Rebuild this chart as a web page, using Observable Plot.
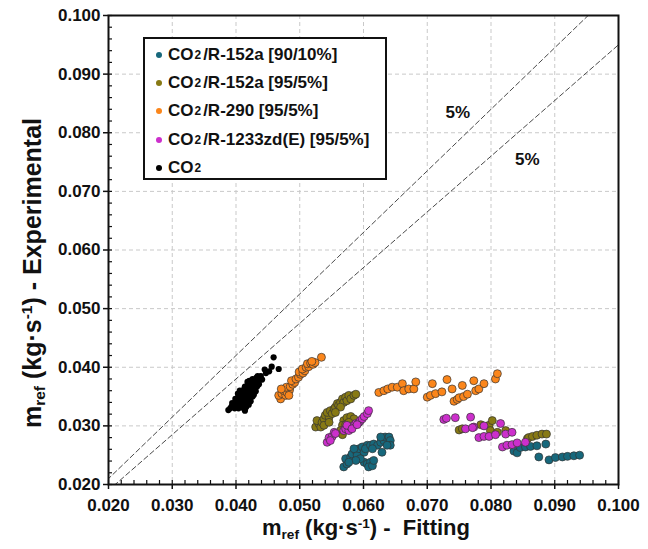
<!DOCTYPE html>
<html>
<head>
<meta charset="utf-8">
<script src="https://cdn.jsdelivr.net/npm/d3@7"></script>
<script src="https://cdn.jsdelivr.net/npm/@observablehq/plot@0.6"></script>
<style>
  body { margin: 0; background: #fff; font-family: "Liberation Sans", Arial, sans-serif; }
  #chart { position: relative; width: 648px; height: 549px; }
  .title { position: absolute; font-weight: bold; color: #111; white-space: nowrap; line-height: 1; }
  .title sub { font-size: 0.62em; vertical-align: -0.32em; line-height: 0; }
  .title sup { font-size: 0.62em; vertical-align: 0.55em; line-height: 0; }
  #legend { position: absolute; left: 143px; top: 37px; width: 244px; height: 143px;
            box-sizing: border-box; border: 2px solid #111; background: #fff; }
  .row { position: absolute; left: 11px; height: 20px; line-height: 20px; font-weight: bold;
         font-size: 17px; color: #111; white-space: nowrap; display: flex; align-items: center; }
  .row .sw { display: inline-block; width: 6px; height: 6px; border-radius: 50%; margin-right: 6px; }
  .row sub { font-size: 0.7em; vertical-align: -0.42em; line-height: 0; margin: 0 2px 0 1px; }
</style>
</head>
<body>
<div id="chart"></div>
<script>
// Axis ticks (both axes share the same range)
const majorTicks = [0.020, 0.030, 0.040, 0.050, 0.060, 0.070, 0.080, 0.090, 0.100];
const minorTicks = d3.range(0.020, 0.1001, 0.002);

// Deviation band drawn as y = (1 ± band)·x
const band = 0.05;
const bandLabelPos = [[0.0748, 0.0834], [0.0857, 0.0754]];

// Mass flow rate pairs [fitting, experimental] in kg/s
const r152a_90_10 = [
  [0.0569,0.0230],[0.0574,0.0235],[0.0572,0.0244],[0.0580,0.0247],[0.0582,0.0252],[0.0588,0.0258],
  [0.0590,0.0250],[0.0593,0.0261],[0.0598,0.0264],[0.0601,0.0255],[0.0606,0.0267],[0.0603,0.0261],
  [0.0611,0.0267],[0.0616,0.0269],[0.0622,0.0267],[0.0627,0.0272],[0.0632,0.0275],[0.0634,0.0281],
  [0.0640,0.0281],[0.0642,0.0275],[0.0642,0.0267],[0.0637,0.0267],[0.0629,0.0255],[0.0614,0.0261],
  [0.0601,0.0238],[0.0606,0.0235],[0.0611,0.0238],[0.0608,0.0230],[0.0614,0.0232],[0.0616,0.0241],
  [0.0595,0.0244],[0.0588,0.0241],[0.0577,0.0238],[0.0585,0.0261],[0.0627,0.0281],
  [0.0836,0.0257],[0.0841,0.0254],[0.0846,0.0263],[0.0854,0.0264],[0.0862,0.0265],[0.0872,0.0266],
  [0.0886,0.0269],[0.0875,0.0247],[0.0891,0.0242],[0.0901,0.0246],[0.0912,0.0247],[0.0920,0.0248],
  [0.0930,0.0249],[0.0939,0.0250]
];
const r152a_95_5 = [
  [0.0525,0.0298],[0.0530,0.0304],[0.0527,0.0309],[0.0533,0.0298],[0.0535,0.0306],[0.0538,0.0312],
  [0.0538,0.0301],[0.0540,0.0318],[0.0546,0.0315],[0.0543,0.0323],[0.0548,0.0326],[0.0551,0.0321],
  [0.0554,0.0329],[0.0556,0.0332],[0.0559,0.0338],[0.0561,0.0335],[0.0564,0.0340],[0.0567,0.0346],
  [0.0569,0.0340],[0.0572,0.0349],[0.0574,0.0343],[0.0577,0.0352],[0.0580,0.0346],[0.0585,0.0352],
  [0.0588,0.0354],[0.0564,0.0332],[0.0556,0.0323],[0.0546,0.0306],
  [0.0569,0.0309],[0.0574,0.0314],[0.0580,0.0316],[0.0585,0.0312],[0.0567,0.0301],[0.0572,0.0302],
  [0.0564,0.0292],[0.0567,0.0285],[0.0577,0.0306],
  [0.0750,0.0293],[0.0755,0.0295],[0.0784,0.0302],[0.0797,0.0301],[0.0802,0.0309],[0.0799,0.0292],
  [0.0810,0.0289],[0.0823,0.0292],[0.0857,0.0278],[0.0859,0.0280],[0.0865,0.0282],[0.0872,0.0284],
  [0.0880,0.0286],[0.0887,0.0286]
];
const r290_95_5 = [
  [0.0470,0.0346],[0.0467,0.0352],[0.0472,0.0355],[0.0478,0.0352],[0.0475,0.0360],[0.0480,0.0357],
  [0.0484,0.0361],[0.0479,0.0366],[0.0485,0.0367],[0.0489,0.0371],[0.0492,0.0374],[0.0487,0.0377],
  [0.0494,0.0380],[0.0498,0.0383],[0.0501,0.0388],[0.0499,0.0392],[0.0505,0.0390],[0.0508,0.0394],
  [0.0504,0.0397],[0.0510,0.0400],[0.0514,0.0401],[0.0512,0.0406],[0.0517,0.0407],[0.0521,0.0405],
  [0.0524,0.0408],[0.0519,0.0410],[0.0534,0.0417],[0.0483,0.0352],[0.0471,0.0363],
  [0.0624,0.0357],[0.0632,0.0360],[0.0638,0.0363],[0.0645,0.0366],[0.0653,0.0366],[0.0661,0.0372],
  [0.0663,0.0360],[0.0671,0.0363],[0.0679,0.0363],[0.0682,0.0375],[0.0700,0.0349],[0.0705,0.0352],
  [0.0708,0.0372],[0.0713,0.0355],[0.0723,0.0358],[0.0731,0.0379],[0.0739,0.0363],[0.0742,0.0342],
  [0.0747,0.0345],[0.0750,0.0348],[0.0755,0.0369],[0.0757,0.0350],[0.0763,0.0354],[0.0773,0.0377],
  [0.0776,0.0360],[0.0781,0.0363],[0.0789,0.0372],[0.0807,0.0380],[0.0810,0.0389]
];
const r1233zd_95_5 = [
  [0.0543,0.0272],[0.0546,0.0280],[0.0551,0.0282],[0.0554,0.0289],[0.0548,0.0275],[0.0556,0.0287],
  [0.0569,0.0292],[0.0572,0.0295],[0.0577,0.0292],[0.0580,0.0298],[0.0585,0.0301],[0.0588,0.0304],
  [0.0593,0.0306],[0.0595,0.0309],[0.0598,0.0312],[0.0601,0.0316],[0.0606,0.0321],[0.0608,0.0326],
  [0.0574,0.0301],[0.0582,0.0295],[0.0590,0.0302],
  [0.0726,0.0311],[0.0730,0.0313],[0.0744,0.0314],[0.0768,0.0315],[0.0773,0.0298],[0.0760,0.0295],
  [0.0771,0.0297],[0.0789,0.0300],[0.0815,0.0304],[0.0781,0.0280],[0.0789,0.0282],[0.0797,0.0282],
  [0.0807,0.0285],[0.0823,0.0286],[0.0833,0.0289],[0.0818,0.0264],[0.0825,0.0267],[0.0833,0.0268],
  [0.0841,0.0271],[0.0854,0.0272]
];
const co2 = [
  [0.0459,0.0417],[0.0467,0.0397],[0.0456,0.0401],[0.0452,0.0393],[0.0447,0.0390],[0.0445,0.0396],
  [0.0441,0.0379],[0.0437,0.0380],[0.0432,0.0382],[0.0426,0.0380],[0.0421,0.0377],[0.0418,0.0375],
  [0.0435,0.0374],[0.0430,0.0373],[0.0424,0.0372],[0.0419,0.0369],[0.0414,0.0367],[0.0433,0.0367],
  [0.0428,0.0365],[0.0423,0.0363],[0.0418,0.0361],[0.0412,0.0359],[0.0409,0.0357],[0.0431,0.0359],
  [0.0425,0.0357],[0.0420,0.0355],[0.0415,0.0353],[0.0410,0.0351],[0.0404,0.0350],[0.0426,0.0350],
  [0.0421,0.0348],[0.0416,0.0346],[0.0411,0.0344],[0.0405,0.0343],[0.0400,0.0342],[0.0423,0.0342],
  [0.0417,0.0340],[0.0412,0.0338],[0.0407,0.0336],[0.0402,0.0335],[0.0397,0.0334],[0.0393,0.0333],
  [0.0416,0.0332],[0.0411,0.0331],[0.0404,0.0330],[0.0398,0.0330],[0.0391,0.0330],[0.0388,0.0327],
  [0.0414,0.0326],[0.0420,0.0336],[0.0428,0.0353],[0.0436,0.0371],[0.0399,0.0346],[0.0403,0.0355],
  [0.0394,0.0339],[0.0409,0.0340],[0.0413,0.0363],[0.0408,0.0348],[0.0418,0.0344],[0.0427,0.0376],
  [0.0439,0.0385],[0.0434,0.0385],[0.0396,0.0337],[0.0406,0.0360]
];

// Series in drawing order, with legend text split around the subscript
const series = [
  {data: r152a_90_10,  color: "#17687c", r: 4.0, rest: "/R-152a [90/10%]"},
  {data: r152a_95_5,   color: "#877914", r: 4.0, rest: "/R-152a [95/5%]"},
  {data: r290_95_5,    color: "#fb861b", r: 4.0, rest: "/R-290 [95/5%]"},
  {data: r1233zd_95_5, color: "#cc2fcc", r: 4.0, rest: "/R-1233zd(E) [95/5%]"},
  {data: co2,          color: "#000000", r: 3.1, rest: ""}
];

const font = "Liberation Sans, Arial, sans-serif";

const plot = Plot.plot({
  width: 648,
  height: 549,
  marginLeft: 108,
  marginRight: 30,
  marginTop: 15,
  marginBottom: 65,
  style: {fontFamily: font, color: "#111", background: "#fff"},
  x: {domain: [0.02, 0.1], label: null},
  y: {domain: [0.02, 0.1], label: null},
  marks: [
    Plot.gridX(majorTicks, {stroke: "#c9c9c9", strokeOpacity: 1, strokeDasharray: "4,3"}),
    Plot.gridY(majorTicks, {stroke: "#c9c9c9", strokeOpacity: 1, strokeDasharray: "4,3"}),
    // ±5% deviation lines
    Plot.line([0.018, 0.102], {x: d => d, y: d => d * (1 + band), stroke: "#4a4a4a", strokeWidth: 1, strokeDasharray: "5,3", clip: true}),
    Plot.line([0.018, 0.102], {x: d => d, y: d => d * (1 - band), stroke: "#4a4a4a", strokeWidth: 1, strokeDasharray: "5,3", clip: true}),
    ...series.map(s => Plot.dot(s.data, {
      x: d => d[0], y: d => d[1], r: s.r, fill: s.color,
      stroke: s.color === "#000000" ? "none" : "#333", strokeWidth: 0.7
    })),
    Plot.text(bandLabelPos, {x: d => d[0], y: d => d[1], text: () => `${band * 100}%`,
      fontSize: 17, fontWeight: "bold", fill: "#111"}),
    Plot.frame({stroke: "#111", strokeWidth: 2}),
    // major ticks crossing the axis, minor ticks on the inside
    Plot.axisX(majorTicks, {tickSize: 5, tickPadding: 9, tickFormat: d3.format(".3f"),
      fontSize: 17, fontWeight: "bold", strokeWidth: 1.5, label: null}),
    Plot.axisX(minorTicks, {tickSize: 4, dy: -4, tickFormat: () => "", strokeWidth: 1.2, label: null}),
    Plot.axisY(majorTicks, {tickSize: 5, tickPadding: 3, tickFormat: d3.format(".3f"),
      fontSize: 17, fontWeight: "bold", strokeWidth: 1.5, label: null}),
    Plot.axisY(minorTicks, {tickSize: 4, dx: 4, tickFormat: () => "", strokeWidth: 1.2, label: null})
  ]
});

const chart = document.getElementById("chart");
chart.appendChild(plot);

// Axis titles
const xTitle = document.createElement("div");
xTitle.className = "title";
xTitle.style.cssText = "left:366px; top:517px; font-size:22px; transform:translateX(-50%);";
xTitle.innerHTML = "m<sub>ref</sub> (kg·s<sup>-1</sup>) -&nbsp; Fitting";
chart.appendChild(xTitle);

const yTitle = document.createElement("div");
yTitle.className = "title";
yTitle.style.cssText = "left:32px; top:273px; font-size:25px; transform:translate(-50%,-50%) rotate(-90deg);";
yTitle.innerHTML = "m<sub>ref</sub> (kg·s<sup>-1</sup>) - Experimental";
chart.appendChild(yTitle);

// Legend
const legend = document.createElement("div");
legend.id = "legend";
series.forEach((s, i) => {
  const row = document.createElement("div");
  row.className = "row";
  row.style.top = (6 + i * 28.2) + "px";
  row.innerHTML = `<span class="sw" style="background:${s.color}"></span>CO<sub>2</sub>${s.rest}`;
  legend.appendChild(row);
});
chart.appendChild(legend);
</script>
</body>
</html>
